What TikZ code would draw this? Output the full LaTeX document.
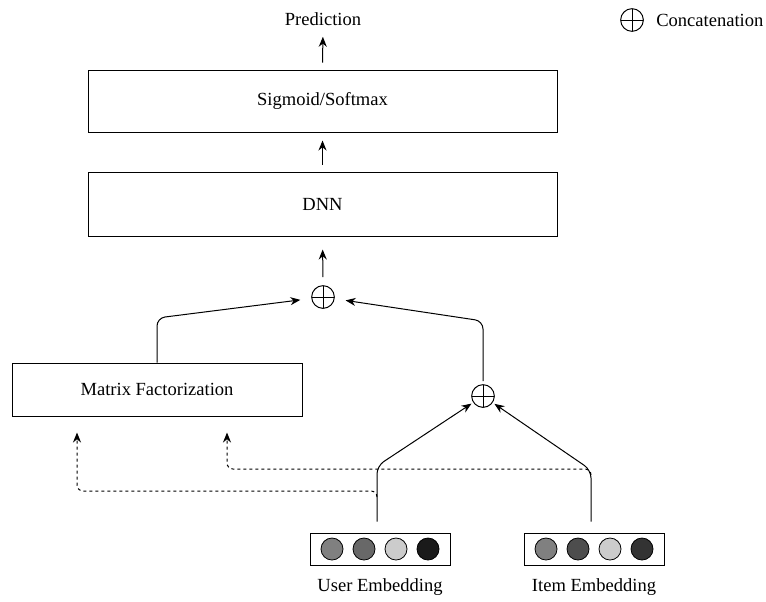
\documentclass[tikz,border=0pt]{standalone}
\usepackage{fontspec}
\setmainfont{Liberation Serif}
\usetikzlibrary{arrows.meta,calc}
\begin{document}
\begin{tikzpicture}[x=0.75pt,y=-0.75pt,
  every node/.style={font=\fontsize{13.9}{16}\selectfont, inner sep=0pt},
  blk/.style={draw, line width=0.75pt, rectangle, anchor=center},
  oplusnode/.style={draw, line width=0.75pt, circle, minimum size=17pt,
     path picture={\draw[line width=0.75pt] (path picture bounding box.north) -- (path picture bounding box.south)
       (path picture bounding box.west) -- (path picture bounding box.east);}},
  ball/.style={draw, line width=0.6pt, circle, minimum size=16.5pt},
  lnk/.style={line width=0.75pt, -{Stealth[length=7.5pt,width=6pt]}},
  dlnk/.style={line width=0.75pt, dash pattern=on 2.25pt off 2.25pt, -{Stealth[length=7.5pt,width=6pt]}}
]
\useasboundingbox (0,0) rectangle (766,601);

% top
\node (pred) at (323,19) {Prediction};
\node[blk, minimum width=351.75pt, minimum height=46.5pt] (sig) at (322.5,101) {Sigmoid/Softmax};
\node[blk, minimum width=351.75pt, minimum height=48pt] (dnn) at (322.5,204) {DNN};
\node[oplusnode] (cat1) at (323,297) {};
\node[blk, minimum width=217.5pt, minimum height=39.75pt] (mf) at (157,389.5) {Matrix Factorization};
\node[oplusnode] (cat2) at (483,396) {};

% embeddings
\node[blk, minimum width=105pt, minimum height=24pt] (user) at (380,549) {};
\node[blk, minimum width=105pt, minimum height=24pt] (item) at (594,549) {};
\node[ball, fill={rgb,255:red,128;green,128;blue,128}] (u1) at (332,549) {};
\node[ball, fill={rgb,255:red,104;green,104;blue,104}] (u2) at (364,549) {};
\node[ball, fill={rgb,255:red,204;green,204;blue,204}] (u3) at (396,549) {};
\node[ball, fill={rgb,255:red,26;green,26;blue,26}] (u4) at (428,549) {};
\node[ball, fill={rgb,255:red,128;green,128;blue,128}] (i1) at (546,549) {};
\node[ball, fill={rgb,255:red,77;green,77;blue,77}] (i2) at (578,549) {};
\node[ball, fill={rgb,255:red,204;green,204;blue,204}] (i3) at (610,549) {};
\node[ball, fill={rgb,255:red,51;green,51;blue,51}] (i4) at (642,549) {};
\node (ulab) at (380,587) {User Embedding};
\node (ilab) at (594,587) {Item Embedding};

% legend
\node[oplusnode] (leg) at (632,20) {};
\node[anchor=west] (legt) at (656,20) {Concatenation};

% vertical arrows
\draw[lnk, shorten <=5.25pt, shorten >=8.25pt] (sig.north) -- (pred.south);
\draw[lnk, shorten <=5.25pt, shorten >=6pt] (dnn.north) -- (sig.south);
\draw[lnk, shorten <=6pt, shorten >=9.75pt] (cat1.north) -- (dnn.south);

% into top concatenation
\draw[lnk, rounded corners=6pt, shorten >=8.25pt] (mf.north) -- (157,318) -- (cat1);
\draw[lnk, rounded corners=6pt, shorten <=2.25pt, shorten >=8.25pt] (cat2.north) -- (483,321) -- (cat1);

% embeddings into lower concatenation
\coordinate (us) at ($(user.north)+(-2.25pt,0)$);
\coordinate (is) at ($(item.north)+(-2.25pt,0)$);
\draw[lnk, rounded corners=6pt, shorten <=8.25pt, shorten >=1.5pt] (us) -- (377,466) -- (cat2);
\draw[lnk, rounded corners=6pt, shorten <=8.25pt, shorten >=1.5pt] (is) -- (591,470) -- (cat2);

% dashed to matrix factorization
\coordinate (ud) at (377,497);
\coordinate (id) at (591,475);
\draw[dlnk, rounded corners=4.5pt, shorten >=12pt] (ud) -- (377,491) -- (77,491) -- (mf.south -| 77,491);
\draw[dlnk, rounded corners=4.5pt, shorten >=12pt] (id) -- (591,469) -- (227,469) -- (mf.south -| 227,469);
\end{tikzpicture}
\end{document}
